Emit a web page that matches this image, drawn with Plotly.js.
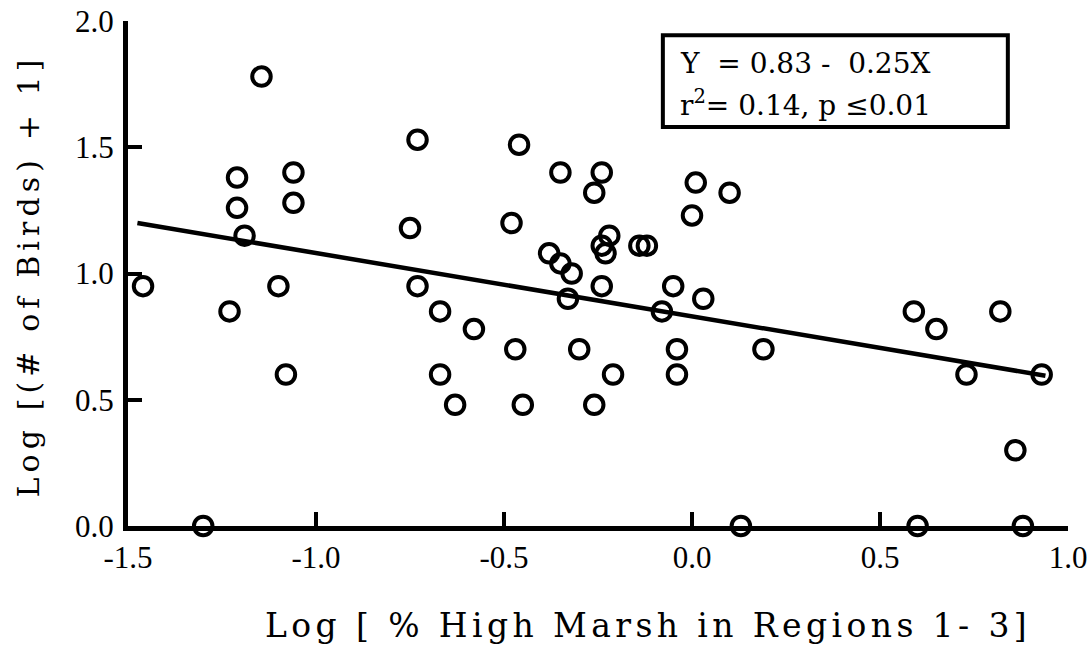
<!DOCTYPE html>
<html>
<head>
<meta charset="utf-8">
<script src="https://cdn.plot.ly/plotly-3.0.1.min.js"></script>
<style>
  html, body { margin: 0; padding: 0; background: #fff; }
  #chart { width: 1090px; height: 658px; }
  g.annotation[data-index="0"] text.annotation-text { letter-spacing: 4.4px; }
  g.annotation[data-index="1"] text.annotation-text { letter-spacing: 5.1px; }
</style>
</head>
<body>
<div id="chart"></div>
<script>
// Log [% High Marsh in Regions 1-3]
const marshX = [-1.46, -1.30, -1.23, -1.21, -1.21, -1.19, -1.145, -1.10, -1.08, -1.06,
                -1.06, -0.75, -0.73, -0.73, -0.67, -0.67, -0.63, -0.58, -0.48, -0.47,
                -0.46, -0.45, -0.38, -0.35, -0.35, -0.33, -0.32, -0.30, -0.26, -0.26,
                -0.24, -0.24, -0.23, -0.22, -0.24, -0.21, -0.14, -0.12, -0.08, -0.05,
                -0.04, -0.04, 0.00, 0.01, 0.03, 0.10, 0.13, 0.19, 0.59, 0.60,
                0.65, 0.73, 0.82, 0.86, 0.88, 0.93];
// Log [(# of Birds) + 1]
const birdsY = [0.95, 0.00, 0.85, 1.26, 1.38, 1.15, 1.78, 0.95, 0.60, 1.40,
                1.28, 1.18, 1.53, 0.95, 0.85, 0.60, 0.48, 0.78, 1.20, 0.70,
                1.51, 0.48, 1.08, 1.04, 1.40, 0.90, 1.00, 0.70, 0.48, 1.32,
                1.40, 1.11, 1.08, 1.15, 0.95, 0.60, 1.11, 1.11, 0.85, 0.95,
                0.70, 0.60, 1.23, 1.36, 0.90, 1.32, 0.00, 0.70, 0.85, 0.00,
                0.78, 0.60, 0.85, 0.30, 0.00, 0.60];
// Regression line end points (Y = 0.83 - 0.25X)
const fitX = [-1.475, 0.94];
const fitY = [1.20, 0.595];

const xTickVals = [-1.5, -1.0, -0.5, 0.0, 0.5, 1.0];
const xTickText = ['-1.5', '-1.0', '-0.5', '0.0', '0.5', '1.0'];
const yTickVals = [0.0, 0.5, 1.0, 1.5, 2.0];
const yTickText = ['0.0', '0.5', '1.0', '1.5', '2.0'];

const xTitle = 'Log [ % High Marsh in Regions 1- 3]';
const yTitle = 'Log [(# of Birds) + 1]';
const eqLine1 = 'Y  = 0.83 -  0.25X';
const eqLine2 = 'r<sup>2</sup>= 0.14, p ≤0.01';

const traces = [
  {
    x: fitX, y: fitY, type: 'scatter', mode: 'lines',
    line: { color: '#000', width: 4.5 },
    hoverinfo: 'skip', showlegend: false
  },
  {
    x: marshX, y: birdsY, type: 'scatter', mode: 'markers',
    marker: { symbol: 'circle-open', size: 18.5, color: '#000', line: { width: 4, color: '#000' } },
    cliponaxis: false, showlegend: false
  }
];

const layout = {
  width: 1090, height: 658,
  margin: { l: 128, r: 22, t: 21, b: 132 },
  paper_bgcolor: '#fff', plot_bgcolor: '#fff',
  showlegend: false,
  xaxis: {
    range: [-1.5, 1.0], autorange: false,
    showgrid: false, zeroline: false,
    showline: true, linecolor: '#000', linewidth: 5,
    ticks: 'inside', ticklen: 14, tickwidth: 4, tickcolor: '#000',
    tickmode: 'array', tickvals: xTickVals, ticktext: xTickText,
    tickfont: { family: 'Liberation Serif', size: 31, color: '#000' },
    ticklabelstandoff: 0
  },
  yaxis: {
    range: [0, 2.0], autorange: false,
    showgrid: false, zeroline: false,
    showline: true, linecolor: '#000', linewidth: 5,
    ticks: 'inside', ticklen: 14, tickwidth: 4, tickcolor: '#000',
    tickmode: 'array', tickvals: yTickVals, ticktext: yTickText,
    tickfont: { family: 'Liberation Serif', size: 31, color: '#000' },
    ticklabelstandoff: 3
  },
  annotations: [
    {
      text: xTitle, xref: 'paper', yref: 'paper', x: 0.553, y: -0.198,
      xanchor: 'center', yanchor: 'middle', showarrow: false,
      font: { family: 'DejaVu Serif', size: 33, color: '#000' }
    },
    {
      text: yTitle, xref: 'paper', yref: 'paper', x: -0.106, y: 0.495,
      xanchor: 'center', yanchor: 'middle', showarrow: false, textangle: -90,
      font: { family: 'DejaVu Serif', size: 30, color: '#000' }
    },
    {
      text: eqLine1, xref: 'paper', yref: 'paper', x: 0.586, y: 0.915,
      xanchor: 'left', yanchor: 'middle', showarrow: false, borderpad: 0,
      font: { family: 'DejaVu Serif', size: 28, color: '#000' }
    },
    {
      text: eqLine2, xref: 'paper', yref: 'paper', x: 0.586, y: 0.837,
      xanchor: 'left', yanchor: 'middle', showarrow: false, borderpad: 0,
      font: { family: 'DejaVu Serif', size: 28, color: '#000' }
    }
  ],
  shapes: [
    {
      type: 'rect', xref: 'paper', yref: 'paper',
      x0: 0.569, x1: 0.936, y0: 0.790, y1: 0.972,
      line: { color: '#000', width: 4 }, fillcolor: 'rgba(0,0,0,0)'
    }
  ]
};

Plotly.newPlot('chart', traces, layout, { displayModeBar: false, staticPlot: true });
</script>
</body>
</html>
